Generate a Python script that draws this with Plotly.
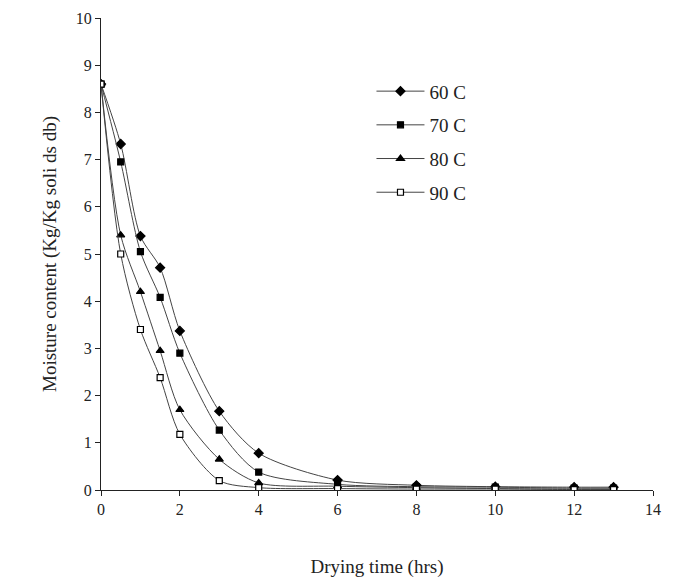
import plotly.graph_objects as go

time_hrs = [0, 0.5, 1, 1.5, 2, 3, 4, 6, 8, 10, 12, 13]
mc_60 = [8.6, 7.33, 5.38, 4.71, 3.37, 1.67, 0.78, 0.21, 0.10, 0.07, 0.06, 0.06]
mc_70 = [8.6, 6.95, 5.05, 4.08, 2.90, 1.27, 0.38, 0.12, 0.07, 0.06, 0.04, 0.04]
mc_80 = [8.6, 5.40, 4.20, 2.95, 1.70, 0.65, 0.15, 0.08, 0.05, 0.03, 0.02, 0.02]
mc_90 = [8.6, 5.00, 3.40, 2.38, 1.18, 0.20, 0.05, 0.03, 0.02, 0.02, 0.01, 0.01]
series_names = ["60 C", "70 C", "80 C", "90 C"]

series = [mc_60, mc_70, mc_80, mc_90]
symbols = ["diamond", "square", "triangle-up", "square"]
sizes = [7, 6, 7, 6]
fills = ["black", "black", "black", "white"]

fig = go.Figure()
for i, (name, ys) in enumerate(zip(series_names, series)):
    fig.add_trace(go.Scatter(
        x=time_hrs, y=ys, name=name, mode="lines+markers",
        legendgroup=name,
        line=dict(color="#444444", width=1, shape="spline", smoothing=0.8),
        marker=dict(symbol=symbols[i], size=sizes[i], color=fills[i],
                    line=dict(color="black", width=1.2)),
    ))

font = dict(family="Liberation Serif, Times New Roman, serif", color="#222222")
fig.update_layout(
    width=675, height=580,
    margin=dict(l=93, r=30, t=10, b=98, autoexpand=False),
    plot_bgcolor="white", paper_bgcolor="white",
    font=dict(size=16, **font),
    legend=dict(x=0.49, y=0.885, xanchor="left", yanchor="top",
                font=dict(size=19, **font), bgcolor="rgba(0,0,0,0)",
                traceorder="grouped", tracegroupgap=6, itemwidth=48),
    xaxis=dict(range=[0, 14], tickvals=[0, 2, 4, 6, 8, 10, 12, 14],
               showline=True, linecolor="#222222", linewidth=1,
               ticks="outside", ticklen=5, tickcolor="#222222",
               showgrid=False, zeroline=False, automargin=False,
               title=dict(text="Drying time (hrs)", standoff=42,
                          font=dict(size=19, **font))),
    yaxis=dict(range=[0, 10], dtick=1,
               showline=True, linecolor="#222222", linewidth=1,
               ticks="outside", ticklen=5, tickcolor="#222222",
               showgrid=False, zeroline=False, automargin=False,
               title=dict(text="Moisture content (Kg/Kg soli ds db)", standoff=14,
                          font=dict(size=19, **font))),
)
fig.write_html("out.html")
